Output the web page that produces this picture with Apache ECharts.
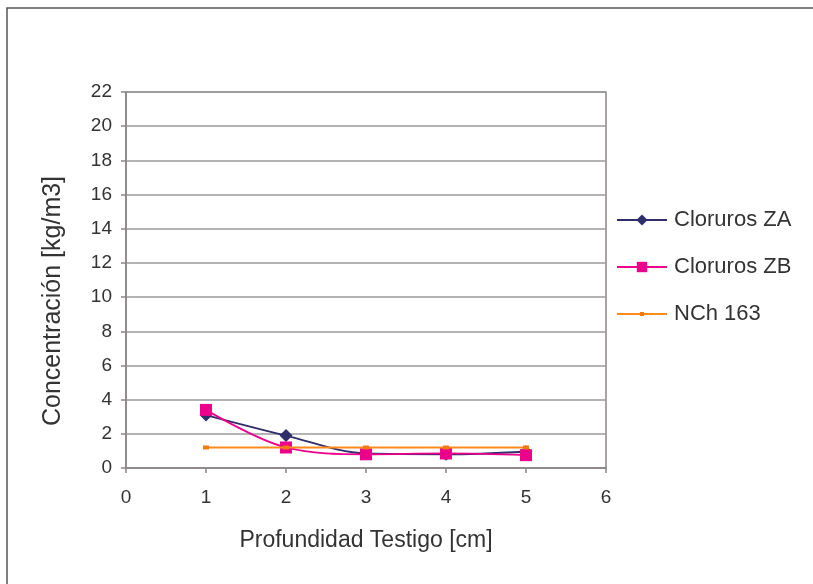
<!DOCTYPE html>
<html>
<head>
<meta charset="utf-8">
<script src="https://cdn.jsdelivr.net/npm/echarts@6/dist/echarts.min.js"></script>
<style>
  html, body { margin: 0; padding: 0; background: #fff; }
  #chart { width: 813px; height: 584px; }
</style>
</head>
<body>
<div id="chart"></div>
<script>
// Depth of the core sample (cm) and chloride concentration (kg/m3)
const depths = [1, 2, 3, 4, 5];
const clorurosZA = [3.1, 1.9, 0.85, 0.8, 0.95];
const clorurosZB = [3.4, 1.2, 0.8, 0.85, 0.75];
const nch163 = [1.2, 1.2, 1.2, 1.2, 1.2];

const seriesNames = ['Cloruros ZA', 'Cloruros ZB', 'NCh 163'];
const xTitle = 'Profundidad Testigo [cm]';
const yTitle = 'Concentración [kg/m3]';

const FONT = 'Liberation Sans, Arial, sans-serif';
const pairs = (ys) => depths.map((d, i) => [d, ys[i]]);

const chart = echarts.init(document.getElementById('chart'));

// One legend block per series so each key can sit at its own row
function legendAt(name, centerY, iconHeight) {
  return {
    data: [name],
    left: 616,
    top: centerY - 12,
    padding: 0,
    orient: 'vertical',
    itemWidth: 50,
    itemHeight: iconHeight,
    itemGap: 0,
    textStyle: { fontFamily: FONT, fontSize: 22, color: '#333', lineHeight: 24, padding: [0, 0, 0, 2] },
    selectedMode: false
  };
}

chart.setOption({
  animation: false,
  backgroundColor: '#fff',
  grid: {
    left: 126, top: 92, right: 207, bottom: 116,
    show: true, borderColor: '#8c8585', borderWidth: 1.5
  },
  legend: [
    legendAt(seriesNames[0], 220, 14),
    legendAt(seriesNames[1], 267, 13),
    legendAt(seriesNames[2], 314, 5)
  ],
  xAxis: {
    type: 'value',
    min: 0, max: 6, interval: 1,
    name: xTitle,
    nameLocation: 'middle',
    nameGap: 61,
    nameTextStyle: { fontFamily: FONT, fontSize: 23, color: '#333' },
    axisLine: { show: true, lineStyle: { color: '#8c8585', width: 1.5 } },
    axisTick: { show: true, length: 5, lineStyle: { color: '#8c8585', width: 1.5 } },
    axisLabel: { fontFamily: FONT, fontSize: 19, color: '#333', margin: 20 },
    splitLine: { show: false }
  },
  yAxis: {
    type: 'value',
    min: 0, max: 22, interval: 2,
    axisLine: { show: true, lineStyle: { color: '#8c8585', width: 1.5 } },
    axisTick: { show: true, length: 5, lineStyle: { color: '#8c8585', width: 1.5 } },
    axisLabel: { fontFamily: FONT, fontSize: 19, color: '#333', margin: 14 },
    splitLine: { show: true, lineStyle: { color: '#9a9a9a', width: 1.5 } }
  },
  graphic: [
    {
      type: 'rect',
      shape: { x: 7, y: 8, width: 900, height: 700 },
      style: { fill: 'none', stroke: '#555', lineWidth: 1.5 },
      silent: true
    },
    {
      type: 'text',
      x: 53, y: 301,
      rotation: Math.PI / 2,
      style: {
        text: yTitle,
        fontFamily: FONT, fontSize: 25, fill: '#333',
        align: 'center', verticalAlign: 'middle'
      },
      silent: true
    }
  ],
  series: [
    {
      name: seriesNames[0],
      type: 'line',
      data: pairs(clorurosZA),
      smooth: 0.35,
      symbol: 'diamond',
      symbolSize: 13,
      color: '#2e2e6a',
      lineStyle: { width: 1.8, color: '#2e2e6a' },
      itemStyle: { color: '#2e2e6a' },
      z: 2
    },
    {
      name: seriesNames[1],
      type: 'line',
      data: pairs(clorurosZB),
      smooth: 0.35,
      symbol: 'rect',
      symbolSize: 12,
      color: '#ec008c',
      lineStyle: { width: 1.8, color: '#ec008c' },
      itemStyle: { color: '#ec008c' },
      z: 3
    },
    {
      name: seriesNames[2],
      type: 'line',
      data: pairs(nch163),
      symbol: 'rect',
      symbolSize: [6, 4],
      color: '#ff8a1e',
      lineStyle: { width: 1.8, color: '#ff8a1e' },
      itemStyle: { color: '#f47a10' },
      z: 4
    }
  ]
});
</script>
</body>
</html>
